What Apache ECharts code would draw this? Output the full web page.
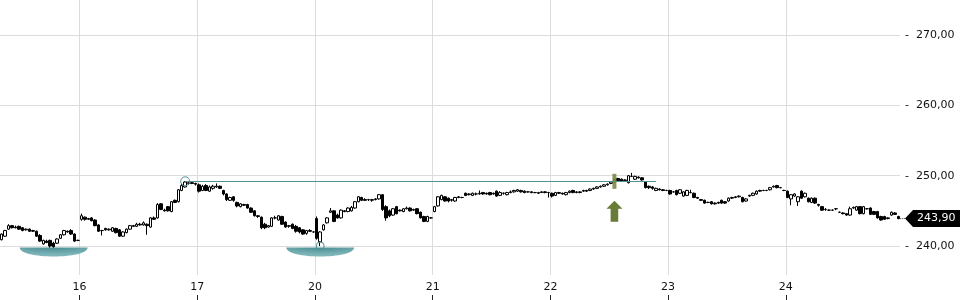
<!DOCTYPE html>
<html><head><meta charset="utf-8">
<script src="https://cdn.jsdelivr.net/npm/echarts@6/dist/echarts.min.js"></script>
<style>html,body{margin:0;padding:0;background:#fff}#c{width:960px;height:300px}</style>
</head><body><div id="c"></div>
<script>
// Each candle: [open, close, low, high]
const dayNames = ['15', '16', '17', '20', '21', '22', '23', '24'];
const day15 = [
[240.9,241.7,240.8,241.8],[241.4,242.2,241.3,242.3],[242.4,242.9,242.3,243.1],[242.9,242.6,242.5,243.0],
[242.6,242.7,242.5,242.9],[242.8,242.4,242.3,242.9],[242.6,242.2,242.1,242.7],[242.3,242.4,242.2,242.5],
[242.4,242.1,242.0,242.5],[242.1,242.2,242.0,242.3],[242.1,241.4,241.3,242.2],[241.5,240.7,240.6,241.7],
[240.3,240.8,240.2,240.9],[240.7,240.5,240.4,240.9],[240.8,240.0,239.7,240.9],[240.4,239.9,239.4,240.6],
[240.4,241.0,240.3,241.1],[241.1,241.6,241.0,241.7],[241.6,242.2,241.5,242.3],[242.1,242.0,241.9,242.2],
[242.2,241.7,241.6,242.4],[241.7,240.7,240.6,241.8],[240.8,240.8,240.7,240.9]];
const day16 = [
[243.8,244.3,243.6,244.6],[244.1,243.8,243.6,244.2],[243.8,243.9,243.7,244.0],[244.0,243.6,243.5,244.1],
[243.7,242.9,242.8,243.8],[243.0,242.1,242.0,243.1],[242.2,242.2,241.5,242.3],[242.5,242.3,242.2,242.6],
[242.3,242.4,242.2,242.5],[242.1,242.6,242.0,242.7],[242.5,241.9,241.8,242.6],[242.3,241.4,241.3,242.4],
[241.4,242.0,241.3,242.1],[241.9,242.4,241.8,242.5],[242.4,242.9,242.3,243.0],[242.9,242.8,242.7,243.0],
[242.8,243.1,242.7,243.3],[243.1,243.0,242.9,243.3],[243.0,243.3,242.9,243.5],[243.1,242.9,241.6,243.2],
[242.7,244.0,242.6,244.1],[244.0,243.8,243.7,244.2],[244.0,245.9,243.9,246.1],[246.0,245.2,245.1,246.1],
[245.1,245.0,244.9,245.3],[245.6,245.0,244.9,245.7],[244.9,246.3,244.8,246.4],[246.5,246.2,246.1,246.6],
[246.3,248.0,246.2,248.1],[247.9,248.6,247.8,248.8],[248.4,249.1,248.3,249.2],[248.9,249.0,248.7,249.1],
[249.0,248.9,248.8,249.1],[248.9,248.8,248.6,249.0]];
const day17 = [
[248.7,247.8,247.6,248.9],[247.9,248.5,247.8,248.7],[248.6,247.9,247.8,248.8],[247.8,248.4,247.7,248.6],
[248.2,248.5,248.0,248.7],[248.4,248.5,248.3,248.9],[248.5,248.2,248.1,248.6],[247.9,247.4,247.2,248.0],
[247.4,246.6,246.4,247.5],[246.5,246.9,246.4,247.0],[247.0,246.5,246.3,247.1],[246.2,245.7,245.5,246.3],
[245.6,246.0,245.5,246.1],[245.9,245.8,245.7,246.0],[245.9,245.4,245.3,246.0],[245.4,244.8,244.7,245.5],
[245.0,244.3,244.2,245.1],[244.3,244.2,244.0,244.4],[244.1,242.6,242.4,244.2],[243.1,242.6,242.4,243.3],
[242.7,242.9,242.6,243.0],[242.8,244.0,242.7,244.1],[244.0,244.0,243.8,244.3],[243.7,244.3,243.6,244.4],
[244.2,243.1,243.0,244.3],[243.4,242.7,242.6,243.5],[242.8,242.9,242.6,243.0],[243.1,242.5,242.4,243.2],
[242.8,242.1,241.9,243.0],[242.6,242.0,241.8,242.7],[242.3,241.7,241.6,242.4],[241.8,242.2,241.6,242.3],
[242.2,242.1,242.0,242.4],[242.0,242.0,241.9,242.1]];
const day20 = [
[243.9,241.1,240.9,244.2],[240.6,242.0,240.0,242.1],[242.3,243.0,242.2,243.1],[243.3,244.0,243.2,244.1],
[244.8,245.0,244.7,245.4],[245.0,243.5,243.4,245.1],[244.4,244.0,243.9,244.6],[244.0,245.1,243.9,245.2],
[245.0,244.9,244.8,245.1],[244.9,245.4,244.8,245.5],[245.0,245.5,244.9,245.7],[245.4,246.3,245.3,246.4],
[246.3,247.0,246.2,247.1],[246.9,246.5,246.4,247.0],[246.6,246.5,246.4,246.8],[246.6,246.6,246.4,246.7],
[246.5,246.6,246.3,246.7],[246.6,246.7,246.5,246.8],[246.7,247.3,246.6,247.4],[247.3,245.2,245.0,247.4],
[245.6,244.0,243.6,245.8],[245.0,244.3,244.1,245.2],[244.4,245.3,244.3,245.4],[245.6,244.6,244.5,245.7],
[245.1,245.0,244.9,245.2],[244.9,245.3,244.8,245.4],[245.3,245.4,245.2,245.6],[245.4,245.0,244.9,245.5],
[245.1,245.2,245.0,245.3],[245.3,244.6,244.5,245.4],[244.8,244.0,243.9,244.9],[244.2,243.5,243.4,244.3],
[243.5,244.2,243.4,244.3],[244.0,244.0,243.9,244.1]];
const day21 = [
[244.9,245.6,244.8,245.7],[245.7,247.0,245.6,247.1],[246.6,247.2,246.5,247.3],[247.0,246.4,246.3,247.1],
[246.8,246.4,246.2,246.9],[246.5,246.6,246.3,246.7],[246.4,246.9,246.3,247.0],[246.9,247.0,246.8,247.1],
[246.9,246.9,246.8,247.0],[247.5,247.2,247.1,247.6],[247.3,247.4,247.2,247.5],[247.2,247.5,247.1,247.6],
[247.4,247.4,247.2,247.6],[247.4,247.5,247.3,247.9],[247.6,247.4,247.3,247.7],[247.5,247.4,247.3,247.6],
[247.6,247.3,247.2,247.7],[247.4,247.5,247.3,247.6],[247.8,247.1,247.0,247.9],[247.2,247.6,247.1,247.8],
[247.5,247.5,247.3,247.6],[247.3,247.6,247.2,247.7],[247.6,247.7,247.5,247.9],[247.7,247.9,247.6,248.0],
[247.8,248.0,247.7,248.1],[247.9,247.7,247.6,248.0],[247.8,247.6,247.5,247.9],[247.7,247.7,247.6,247.8],
[247.7,247.6,247.5,247.8],[247.6,247.6,247.5,247.7],[247.5,247.6,247.4,247.7],[247.6,247.7,247.6,247.8],
[247.7,247.6,247.5,247.8],[247.6,247.6,246.9,247.7]];
const day22 = [
[247.5,247.1,246.9,247.6],[247.2,247.6,247.1,247.7],[247.6,247.5,247.4,247.7],[247.5,247.4,247.3,247.6],
[247.3,247.6,247.2,247.7],[247.6,247.8,247.5,247.9],[247.9,247.6,247.5,248.0],[247.6,247.7,247.5,247.8],
[247.6,247.7,247.5,247.8],[247.8,247.9,247.7,248.0],[247.9,247.8,247.7,248.0],[247.9,248.1,247.8,248.2],
[248.1,248.2,248.0,248.3],[248.2,248.4,248.1,248.5],[248.4,248.5,248.3,248.6],[248.5,248.7,248.4,248.8],
[248.7,248.8,248.6,248.9],[248.9,249.1,248.8,249.2],[249.1,249.5,249.0,249.6],[249.6,249.3,249.2,249.7],
[249.5,249.2,249.1,249.6],[249.3,249.4,249.2,249.5],[249.0,250.0,248.9,250.1],[249.9,249.9,249.8,250.4],
[249.5,249.9,249.4,250.0],[249.8,249.7,249.6,249.9],[249.7,249.4,249.3,249.8],[249.1,248.3,248.2,249.2],
[248.5,248.3,248.1,248.6],[248.4,248.2,248.0,248.5],[247.9,248.2,247.8,248.3],[248.1,248.0,247.9,248.2],
[248.0,247.9,247.8,248.1],[247.9,247.9,247.8,248.0]];
const day23 = [
[247.9,247.4,247.3,248.0],[247.7,247.7,247.6,247.8],[247.9,247.3,247.2,248.0],[247.5,248.0,247.4,248.1],
[247.1,247.7,247.0,247.8],[247.2,247.9,247.1,248.0],[247.6,247.6,247.5,248.0],[247.5,246.9,246.8,247.6],
[246.9,246.8,246.7,247.0],[246.6,246.5,246.4,246.7],[246.5,246.1,246.0,246.6],[246.2,246.2,246.1,246.3],
[246.3,246.0,245.9,246.4],[246.1,246.0,245.9,246.2],[246.2,246.1,246.0,246.3],[246.5,246.1,246.0,246.6],
[246.3,246.1,246.0,246.4],[246.4,246.8,246.3,246.9],[246.8,246.9,246.7,247.0],[246.9,247.0,246.8,247.1],
[247.0,247.1,246.9,247.2],[246.9,246.3,246.2,247.0],[246.4,246.7,246.3,246.8],[247.1,247.2,247.0,247.3],
[247.2,247.5,247.1,247.6],[247.4,247.8,247.3,247.9],[247.8,247.9,247.7,248.0],[247.9,247.9,247.8,248.0],
[247.9,247.9,247.8,248.0],[248.0,248.3,247.9,248.4],[248.4,248.5,248.3,248.6],[248.6,248.3,248.2,248.7],
[248.3,248.3,248.2,248.4],[247.9,247.9,247.8,248.0]];
const day24 = [
[247.8,246.9,246.8,247.9],[246.7,247.3,245.8,247.4],[247.1,247.4,247.0,247.5],[246.3,247.0,245.7,247.1],
[247.8,246.8,246.7,247.9],[247.0,247.5,246.9,247.6],[246.8,246.3,246.2,246.9],[246.2,246.8,246.1,246.9],
[246.8,246.1,246.0,246.9],[245.9,245.8,245.6,246.0],[245.6,245.1,245.0,245.7],[245.2,245.2,245.0,245.4],
[245.1,245.1,245.0,245.2],[245.1,245.1,245.0,245.2],[245.3,245.3,245.1,245.4],[244.8,244.8,244.7,244.9],
[244.7,244.6,244.5,244.8],[244.6,244.4,244.3,244.7],[244.4,245.3,244.3,245.6],[245.4,245.5,245.3,245.6],
[245.1,245.6,245.0,245.7],[245.6,244.6,244.5,245.7],[244.6,245.6,244.5,245.7],[245.3,245.3,245.2,245.4],
[245.4,244.5,244.4,245.5],[244.9,244.5,244.4,245.0],[244.9,244.0,243.9,245.0],[244.2,243.7,243.6,244.3],
[244.2,243.8,243.7,244.3],[243.9,244.0,243.8,244.1],[244.4,244.8,244.3,244.9],[244.7,244.5,244.4,244.8],
[244.2,243.9,243.8,244.3]];
const yTicks = [240, 250, 260, 270];
const supportLevel = 239.8;      // level marked by the two teal bowls
const bowlCandles = [15, 92];    // candle indexes of the two lows
const highCandle = 53;           // candle whose high sets the horizontal level
const lineEndCandle = 189;
const signalCandle = 177;        // breakout candle (green arrow)
const lowCircleCandle = 92;

const days = [day15, day16, day17, day20, day21, day22, day23, day24];
const categories = [];
const ohlc = [];
const dayStarts = [];
days.forEach((d, di) => {
  if (di > 0) dayStarts.push(ohlc.length);
  d.forEach((c, ci) => { categories.push(dayNames[di] + '-' + ci); ohlc.push(c); });
});
const dayAt = v => { let k = 0; dayStarts.forEach((s, j) => { if (v >= s) k = j + 1; }); return dayNames[k]; };
const fmt = v => v.toFixed(2).replace('.', ',');
const level = ohlc[highCandle][3];
const lastClose = ohlc[ohlc.length - 1][1];
const FONT = 'DejaVu Sans';
const GRID_RIGHT = 60;
const teal = '#4f9297';
const bowlPath = 'path://M0,0 L68,0 C68,12 0,12 0,0 Z';
const bowlFill = {type: 'radial', x: 0.5, y: 0, r: 0.8, colorStops: [{offset: 0, color: '#4b8d92'}, {offset: 1, color: '#7db5b9'}]};

const chart = echarts.init(document.getElementById('c'), null, {renderer: 'canvas'});
const option = {
  animation: false,
  backgroundColor: '#fff',
  grid: {left: 0, right: GRID_RIGHT, top: 0, bottom: 25},
  xAxis: [{
    type: 'category', data: categories, boundaryGap: true, show: false
  }, {
    // day axis: positions in candle units, ticks at each session start
    type: 'value', min: 0, max: categories.length, position: 'bottom', offset: 25,
    axisLine: {show: false},
    axisTick: {show: true, inside: true, length: 5, customValues: dayStarts, lineStyle: {color: '#222'}},
    axisLabel: {inside: true, margin: 7, customValues: dayStarts, formatter: v => dayAt(v),
      fontSize: 11, fontFamily: FONT, color: '#111'},
    splitLine: {show: true, lineStyle: {color: '#dcdcdc', width: 1}}
  }],
  yAxis: {
    type: 'value', position: 'right', min: 235.88, max: 274.98, scale: true,
    axisLine: {show: false}, axisTick: {show: false},
    splitLine: {show: true, showMinLine: false, showMaxLine: false, lineStyle: {color: '#dcdcdc', width: 1}},
    axisLabel: {margin: 5, showMinLabel: false, showMaxLabel: false,
      formatter: v => yTicks.includes(Math.round(v * 100) / 100) ? '-  ' + fmt(v) : '',
      fontSize: 11, fontFamily: FONT, color: '#111'}
  },
  series: [{
    type: 'candlestick', data: ohlc, barWidth: 3, xAxisIndex: 0,
    itemStyle: {color: '#fff', color0: '#000', borderColor: '#000', borderColor0: '#000', borderWidth: 1},
    emphasis: {disabled: true},
    markLine: {
      silent: true, symbol: 'none', animation: false,
      lineStyle: {color: teal, width: 1, type: 'solid'}, label: {show: false},
      data: [[{coord: [categories[highCandle], level]}, {coord: [categories[lineEndCandle], level]}]]
    },
    markPoint: {
      silent: true, animation: false, label: {show: false},
      data: [
        {coord: [categories[bowlCandles[0]], supportLevel], symbol: bowlPath,
          symbolSize: [68, 9], symbolOffset: [0, 4.5], symbolKeepAspect: false, itemStyle: {color: bowlFill}},
        {coord: [categories[bowlCandles[1]], supportLevel], symbol: bowlPath,
          symbolSize: [68, 9], symbolOffset: [0, 4.5], symbolKeepAspect: false, itemStyle: {color: bowlFill}},
        {coord: [categories[highCandle], level], symbol: 'circle', symbolSize: 9,
          itemStyle: {color: 'rgba(0,0,0,0)', borderColor: teal, borderWidth: 1}},
        {coord: [categories[lowCircleCandle], ohlc[lowCircleCandle][2]], symbol: 'circle', symbolSize: 8,
          itemStyle: {color: 'rgba(0,0,0,0)', borderColor: teal, borderWidth: 1}},
        {coord: [categories[signalCandle], level], symbol: 'rect', symbolSize: [4, 15],
          itemStyle: {color: '#7a8b48', opacity: 0.9}},
        {coord: [categories[signalCandle], level], symbol: 'path://M8,0 L16,8 L11.8,8 L11.8,21 L4.2,21 L4.2,8 L0,8 Z',
          symbolSize: [16, 21], symbolOffset: [0, 30], symbolKeepAspect: false,
          itemStyle: {color: '#687b37'}}
      ]
    }
  }]
};
chart.setOption(option);

const py = chart.convertToPixel({yAxisIndex: 0}, lastClose);
const lastX = chart.convertToPixel({xAxisIndex: 0}, categories[categories.length - 1]);
const gx = chart.getWidth() - GRID_RIGHT;
const W = chart.getWidth();
chart.setOption({
  graphic: [
    {type: 'line', shape: {x1: lastX + 2, y1: py, x2: gx + 5, y2: py}, style: {stroke: '#333', lineWidth: 1, lineDash: [1, 1]}},
    {type: 'polygon', shape: {points: [[gx + 5, py], [gx + 13, py - 8.5], [W, py - 8.5], [W, py + 8.5], [gx + 13, py + 8.5]]},
      style: {fill: '#000'}},
    {type: 'text', x: gx + 17, y: py, style: {text: fmt(lastClose), fill: '#fff', font: '11px "DejaVu Sans"', verticalAlign: 'middle'}}
  ]
});
</script>
</body></html>
